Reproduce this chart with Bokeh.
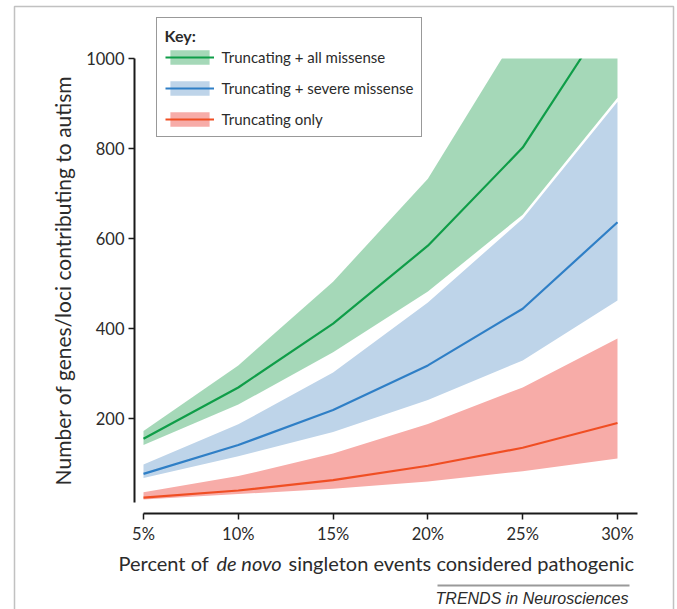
from bokeh.plotting import figure
from bokeh.models import (FixedTicker, Range1d, Legend, LegendItem, Label, BoxAnnotation)
from bokeh.embed import file_html
from bokeh.resources import INLINE

# ---- data ----
pct = [5, 10, 15, 20, 25, 30]
tick_labels = ["5%", "10%", "15%", "20%", "25%", "30%"]
y_ticks = [200, 400, 600, 800, 1000]

green_mid = [155, 269, 411, 584, 802, 1125]
green_hi = [172, 318, 504, 733, 1075, 1100]
green_lo = [141, 231, 347, 482, 653, 913]

blue_mid = [77, 141, 219, 318, 444, 636]
blue_hi = [98, 187, 302, 458, 644, 904]
blue_lo = [68, 116, 170, 241, 329, 462]

red_mid = [24, 40, 63, 95, 135, 190]
red_hi = [36, 72, 122, 188, 269, 378]
red_lo = [20, 32, 44, 60, 83, 111]

series_names = ["Truncating + all missense", "Truncating + severe missense", "Truncating only"]

FONT = "Lato"
TXT = "#2b2b2b"

W, H = 677, 609
# the frame spans the whole canvas; axes are pinned at fixed data locations
p = figure(width=W, height=H, output_backend="svg", toolbar_location=None,
           x_range=Range1d(-2.542, 33.165), y_range=Range1d(-224.4, 1128.9),
           min_border=0)
p.outline_line_color = None
p.grid.visible = False
p.background_fill_color = "white"
p.border_fill_color = "white"

# bands
r_red_band = p.varea(x=pct, y1=red_lo, y2=red_hi, fill_color="#f7aca8", fill_alpha=1.0)
r_blue_band = p.varea(x=pct, y1=blue_lo, y2=blue_hi, fill_color="#bed4e9", fill_alpha=1.0)
r_green_band = p.varea(x=pct, y1=green_lo, y2=green_hi, fill_color="#28a256", fill_alpha=0.42)

r_red = p.line(pct, red_mid, line_color="#f04e23", line_width=2.2)
r_blue = p.line(pct, blue_mid, line_color="#2f7fc6", line_width=2.2)
r_green = p.line(pct, green_mid, line_color="#0f9d48", line_width=2.2)

# mask everything above the top of the value axis (y = 1000)
p.add_layout(BoxAnnotation(left=4.6, right=40, bottom=y_ticks[-1], top=2000,
                           fill_color="white", fill_alpha=1, line_color=None))

# axes
xa = p.xaxis[0]
xa.ticker = FixedTicker(ticks=pct)
xa.major_label_overrides = {v: t for v, t in zip(pct, tick_labels)}
xa.bounds = (5, 31.05)
xa.fixed_location = -11
ya = p.yaxis[0]
ya.ticker = FixedTicker(ticks=y_ticks)
ya.bounds = (13, 1000)
ya.fixed_location = 4.525
for ax in (xa, ya):
    ax.axis_line_color = "#1a1a1a"
    ax.axis_line_width = 2
    ax.major_tick_line_color = "#1a1a1a"
    ax.major_tick_line_width = 1.5
    ax.major_tick_in = 0
    ax.major_tick_out = 6
    ax.minor_tick_line_color = None
    ax.major_label_text_font = FONT
    ax.major_label_text_font_size = "16.5px"
    ax.major_label_text_color = TXT
xa.major_label_standoff = 5
ya.major_label_standoff = 4
ya.axis_label = "Number of genes/loci contributing to autism"
ya.axis_label_text_font = FONT
ya.axis_label_text_font_size = "21px"
ya.axis_label_text_font_style = "normal"
ya.axis_label_text_color = TXT
ya.axis_label_standoff = 8

# screen coords: x from left, y from bottom of the canvas
def cy(page_y):
    return H - page_y

lab_y = cy(562)
for txt, px, style in [("Percent of", 118, "normal"), ("de novo", 216, "italic"),
                       ("singleton events considered pathogenic", 288, "normal")]:
    p.add_layout(Label(x=px, y=lab_y, x_units="screen", y_units="screen", text=txt,
                       text_font=FONT, text_font_size="20px", text_font_style=style,
                       text_color=TXT, text_baseline="middle", text_align="left"))

# source credit
p.add_layout(Label(x=628, y=cy(589), x_units="screen", y_units="screen",
                   text="TRENDS in Neurosciences", text_font="Liberation Sans",
                   text_font_size="16px", text_font_style="italic", text_color=TXT,
                   text_baseline="top", text_align="right"))
p.add_layout(BoxAnnotation(left=437, right=629, top=cy(584), bottom=cy(586),
                           left_units="screen", right_units="screen",
                           top_units="screen", bottom_units="screen",
                           fill_color="#9a9a9a", fill_alpha=1, line_color=None))

# outer frame of the figure panel
p.add_layout(BoxAnnotation(left=14, right=673, top=cy(6), bottom=-20,
                           left_units="screen", right_units="screen",
                           top_units="screen", bottom_units="screen",
                           fill_alpha=0, line_color="#333333", line_width=1.5))

# legend
legend = Legend(items=[
    LegendItem(label=series_names[0], renderers=[r_green_band, r_green]),
    LegendItem(label=series_names[1], renderers=[r_blue_band, r_blue]),
    LegendItem(label=series_names[2], renderers=[r_red_band, r_red]),
], location=(155.5, cy(137)), title="Key:")
legend.title_text_font = FONT
legend.title_text_font_style = "bold"
legend.title_text_font_size = "16px"
legend.title_text_color = TXT
legend.title_standoff = 3
legend.label_text_font = FONT
legend.label_text_font_size = "15px"
legend.label_text_color = TXT
legend.glyph_width = 49
legend.glyph_height = 18
legend.label_height = 18
legend.spacing = 13
legend.label_standoff = 8
legend.padding = 8
legend.margin = 0
legend.border_line_color = "#333333"
legend.border_line_width = 1.5
legend.background_fill_color = "white"
legend.background_fill_alpha = 1
p.add_layout(legend, "center")

open("out.html", "w").write(file_html(p, INLINE))
